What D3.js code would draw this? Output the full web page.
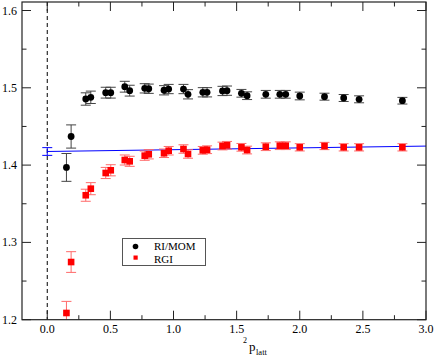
<!DOCTYPE html>
<html>
<head>
<script src="https://d3js.org/d3.v7.min.js"></script>
<style>
  body { margin: 0; background: #fff; }
  text { font-family: "Liberation Serif", "DejaVu Serif", serif; }
</style>
</head>
<body>
<script>
// p_latt^2 values (shared by both series)
var pSq = [0.152, 0.189, 0.305, 0.345, 0.463, 0.503, 0.614, 0.653, 0.772, 0.804,
           0.925, 0.962, 1.079, 1.115, 1.232, 1.266, 1.388, 1.424, 1.538, 1.583,
           1.731, 1.842, 1.889, 2.0, 2.196, 2.348, 2.470, 2.813]
var riMom = [1.397, 1.437, 1.4855, 1.4877, 1.4937, 1.4937, 1.5014, 1.4963, 1.4993, 1.4988,
             1.4968, 1.4984, 1.4984, 1.4916, 1.4942, 1.4942, 1.4959, 1.4963, 1.4929, 1.4898,
             1.4916, 1.4916, 1.4916, 1.4894, 1.4885, 1.4868, 1.4851, 1.4833]
var riMomErr = [0.018, 0.015, 0.008, 0.008, 0.007, 0.007, 0.007, 0.007, 0.006, 0.006,
                0.006, 0.006, 0.006, 0.006, 0.006, 0.006, 0.006, 0.006, 0.005, 0.005,
                0.005, 0.005, 0.005, 0.005, 0.0045, 0.0045, 0.0045, 0.0043]
var rgi = [1.2087, 1.2746, 1.361, 1.3695, 1.3898, 1.3933, 1.4066, 1.4049, 1.4122, 1.414,
           1.4153, 1.4186, 1.4208, 1.4144, 1.4191, 1.4199, 1.4247, 1.4256, 1.423, 1.4195,
           1.4238, 1.4251, 1.4251, 1.423, 1.4247, 1.423, 1.423, 1.423]
var rgiErr = [0.015, 0.0134, 0.0078, 0.0078, 0.0072, 0.0072, 0.0065, 0.0065, 0.006, 0.006,
              0.0055, 0.0055, 0.0055, 0.0055, 0.005, 0.005, 0.005, 0.005, 0.005, 0.005,
              0.005, 0.005, 0.005, 0.0047, 0.0047, 0.0047, 0.0047, 0.0047]
// linear fit of RGI, value at p^2 = 0 with its error
var fitX = [0, 3.0]
var fitY = [1.4176, 1.4246]
var fitErr = 0.005

var xTicks = [0, 0.5, 1.0, 1.5, 2.0, 2.5, 3.0]
var xMinor = [0.25, 0.75, 1.25, 1.75, 2.25, 2.75]
var yTicks = [1.2, 1.3, 1.4, 1.5, 1.6]
var yMinor = [1.25, 1.35, 1.45, 1.55]

var w = 436, h = 359
var svg = d3.select('body').append('svg').attr('width', w).attr('height', h)

var x = d3.scaleLinear().domain([-0.2, 3.0]).range([22, 426])
var y = d3.scaleLinear().domain([1.2, 1.6]).range([319.7, 10.5])
var pTop = 2, pBottom = 319.7, pLeft = 22, pRight = 426

svg.append('clipPath').attr('id', 'clip').append('rect')
    .attr('x', pLeft).attr('y', pTop).attr('width', pRight - pLeft).attr('height', pBottom - pTop)

var plot = svg.append('g').attr('clip-path', 'url(#clip)')

// dashed line at p^2 = 0
plot.append('line')
    .attr('x1', x(0)).attr('x2', x(0)).attr('y1', pTop).attr('y2', pBottom)
    .attr('stroke', 'black').attr('stroke-dasharray', '4,3')

// fit line
plot.append('line')
    .attr('x1', x(fitX[0])).attr('x2', x(fitX[1]))
    .attr('y1', y(fitY[0])).attr('y2', y(fitY[1]))
    .attr('stroke', 'blue').attr('stroke-width', 1)

function errBar(g, px, py, e, color) {
    g.append('line').attr('x1', x(px)).attr('x2', x(px))
        .attr('y1', y(py - e)).attr('y2', y(py + e)).attr('stroke', color)
    g.append('line').attr('x1', x(px) - 5).attr('x2', x(px) + 5)
        .attr('y1', y(py - e)).attr('y2', y(py - e)).attr('stroke', color)
    g.append('line').attr('x1', x(px) - 5).attr('x2', x(px) + 5)
        .attr('y1', y(py + e)).attr('y2', y(py + e)).attr('stroke', color)
}

errBar(plot, 0, fitY[0], fitErr, 'blue')

pSq.forEach(function (p, i) {
    errBar(plot, p, rgi[i], rgiErr[i], '#ff6a6a')
    errBar(plot, p, riMom[i], riMomErr[i], '#444')
})

plot.selectAll('.sq').data(pSq).enter().append('rect')
    .attr('x', function (d) { return x(d) - 3.3 })
    .attr('y', function (d, i) { return y(rgi[i]) - 3.3 })
    .attr('width', 6.6).attr('height', 6.6)
    .attr('fill', 'red')

plot.selectAll('.dot').data(pSq).enter().append('circle')
    .attr('cx', function (d) { return x(d) })
    .attr('cy', function (d, i) { return y(riMom[i]) })
    .attr('r', 3.4)
    .attr('fill', 'black')

// frame
svg.append('rect').attr('x', pLeft).attr('y', pTop)
    .attr('width', pRight - pLeft).attr('height', pBottom - pTop)
    .attr('fill', 'none').attr('stroke', '#222').attr('stroke-width', 1.2)

// ticks (inward, on all sides)
var tk = svg.append('g').attr('stroke', '#222')
xTicks.concat(xMinor).forEach(function (t) {
    var len = xTicks.indexOf(t) >= 0 ? 9 : 4.5
    tk.append('line').attr('x1', x(t)).attr('x2', x(t)).attr('y1', pBottom).attr('y2', pBottom - len)
    tk.append('line').attr('x1', x(t)).attr('x2', x(t)).attr('y1', pTop).attr('y2', pTop + len)
})
yTicks.concat(yMinor).forEach(function (t) {
    var len = yTicks.indexOf(t) >= 0 ? 9 : 4.5
    tk.append('line').attr('y1', y(t)).attr('y2', y(t)).attr('x1', pLeft).attr('x2', pLeft + len)
    tk.append('line').attr('y1', y(t)).attr('y2', y(t)).attr('x1', pRight).attr('x2', pRight - len)
})

// tick labels
svg.selectAll('.xl').data(xTicks).enter().append('text')
    .attr('x', function (d) { return x(d) }).attr('y', 333)
    .attr('text-anchor', 'middle').attr('font-size', 12)
    .text(function (d) { return d.toFixed(1) })
svg.selectAll('.yl').data(yTicks).enter().append('text')
    .attr('x', 17).attr('y', function (d) { return y(d) + 4 })
    .attr('text-anchor', 'end').attr('font-size', 12)
    .text(function (d) { return d.toFixed(1) })

// axis title p_latt^2
svg.append('text').attr('x', 243).attr('y', 343).attr('font-size', 8).text('2')
svg.append('text').attr('x', 249).attr('y', 351).attr('font-size', 13).text('p')
svg.append('text').attr('x', 256).attr('y', 355).attr('font-size', 8.5).text('latt')

// legend
svg.append('rect').attr('x', 122.5).attr('y', 238.5).attr('width', 83).attr('height', 27)
    .attr('fill', 'white').attr('stroke', '#555')
svg.append('circle').attr('cx', 135.5).attr('cy', 246.5).attr('r', 2.8).attr('fill', 'black')
svg.append('rect').attr('x', 133.5).attr('y', 255.5).attr('width', 4.2).attr('height', 4.2).attr('fill', 'red')
svg.append('text').attr('x', 154).attr('y', 250).attr('font-size', 11).text('RI/MOM')
svg.append('text').attr('x', 154).attr('y', 262.5).attr('font-size', 11).text('RGI')
</script>
</body>
</html>
